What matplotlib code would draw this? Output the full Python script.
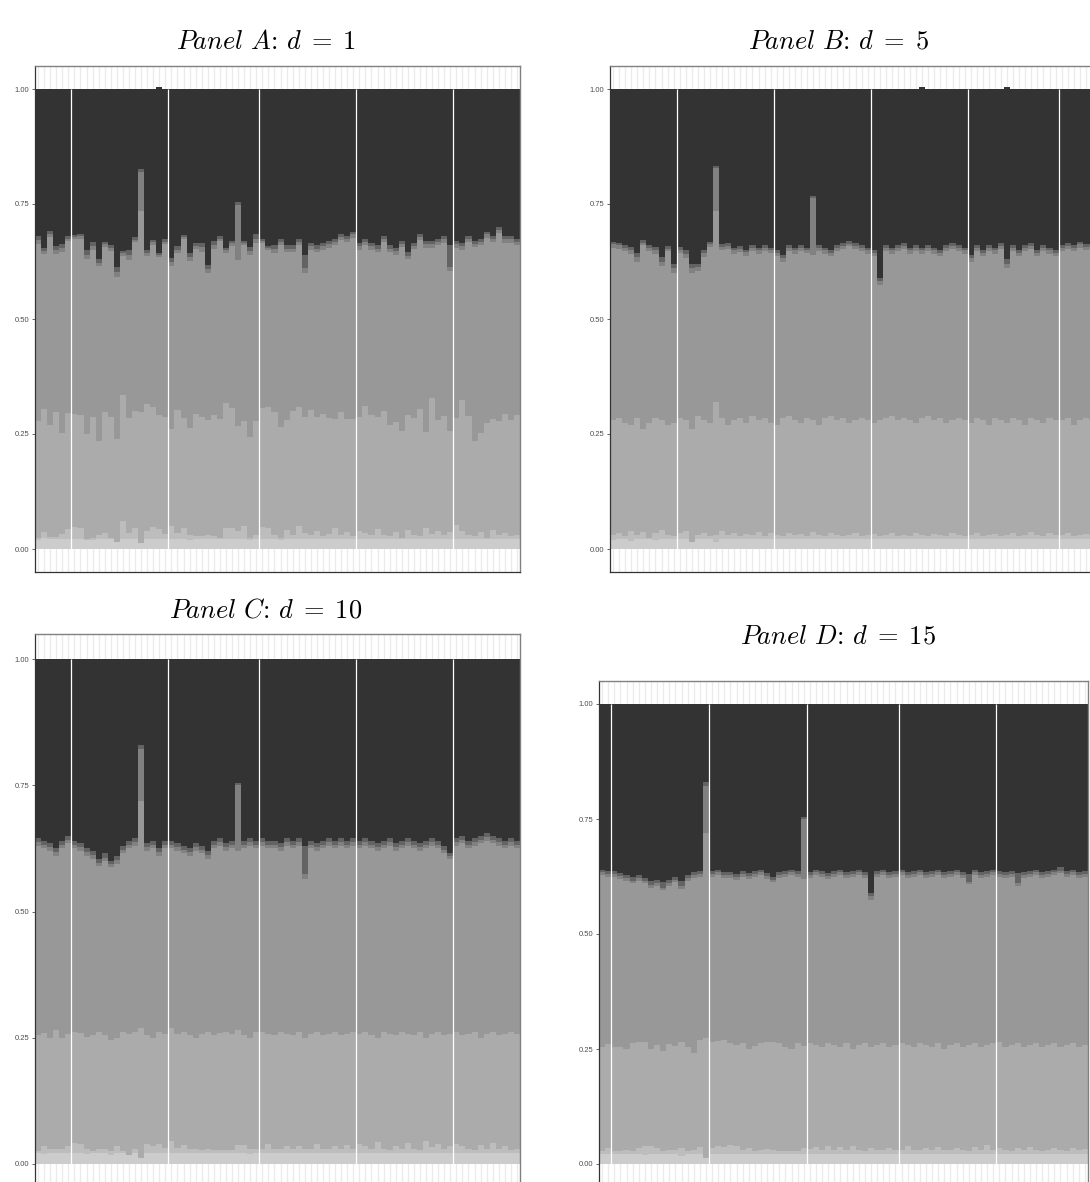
import numpy as np
import matplotlib.pyplot as plt

plt.rcParams['mathtext.fontset'] = 'cm'
plt.rcParams['font.family'] = ['Liberation Sans', 'DejaVu Sans']

W, H = 1090, 1182

# grey fill per ancestry layer, bottom to top
greys = ['#cccccc', '#bdbdbd', '#ababab', '#989898', '#818181', '#636363', '#333333']

# each panel: cumulative top of layers 1..6 for each individual (layer 7 runs to 1)
a_c = [.020, .023, .022, .022, .022, .022,
       .022, .022, .019, .020, .022, .022, .022, .016, .022, .022, .022, .012, .022, .022, .022, .022,
       .022, .022, .022, .020, .022, .022, .022, .022, .022, .022, .022, .022, .022, .020, .022,
       .022, .022, .022, .020, .022, .022, .022, .022, .022, .022, .022, .022, .022, .022, .022, .022,
       .022, .022, .022, .022, .022, .022, .022, .022, .022, .022, .022, .022, .022, .022, .022, .022,
       .022, .022, .022, .022, .022, .022, .022, .022, .022, .022, .022]
a_l = [.023, .038, .027, .027, .033, .043,
       .048, .046, .021, .025, .030, .035, .023, .016, .061, .034, .045, .012, .040, .048, .043, .032,
       .050, .034, .045, .030, .028, .028, .030, .028, .025, .046, .045, .040, .049, .025, .030,
       .048, .045, .030, .023, .041, .031, .049, .035, .030, .040, .028, .033, .045, .030, .038, .028,
       .040, .035, .030, .044, .030, .028, .036, .025, .042, .030, .028, .045, .033, .040, .030, .036,
       .052, .040, .030, .028, .038, .025, .042, .030, .035, .028, .030]
a_s = [.278, .304, .270, .298, .252, .296,
       .293, .291, .250, .287, .235, .298, .287, .239, .335, .285, .300, .298, .315, .309, .291, .287,
       .261, .302, .285, .263, .293, .287, .280, .291, .283, .317, .307, .267, .278, .243, .278,
       .307, .309, .298, .265, .280, .300, .309, .287, .302, .287, .293, .285, .283, .298, .283, .283,
       .287, .311, .291, .287, .300, .270, .276, .257, .291, .285, .304, .254, .328, .280, .289, .257,
       .285, .324, .289, .235, .252, .274, .283, .278, .293, .280, .291]
a_m = [.663, .641, .678, .641, .646, .670,
       .674, .674, .630, .650, .615, .657, .648, .591, .637, .628, .667, .735, .637, .661, .635, .663,
       .615, .643, .674, .626, .652, .646, .600, .652, .670, .643, .659, .628, .661, .639, .665,
       .665, .650, .643, .660, .645, .645, .660, .600, .650, .645, .650, .655, .660, .672, .667, .677,
       .650, .660, .650, .645, .667, .645, .640, .656, .630, .652, .672, .655, .655, .660, .665, .605,
       .655, .650, .667, .657, .660, .676, .667, .686, .665, .665, .660]
a_g = [.672, .648, .684, .650, .655, .675,
       .678, .680, .640, .659, .622, .662, .655, .602, .643, .640, .672, .820, .644, .667, .639, .668,
       .624, .651, .678, .635, .659, .656, .608, .661, .675, .649, .665, .748, .665, .648, .675,
       .670, .655, .652, .667, .653, .652, .668, .610, .658, .652, .658, .663, .668, .679, .674, .684,
       .658, .668, .658, .653, .674, .653, .648, .664, .638, .659, .679, .663, .663, .668, .673, .612,
       .663, .658, .674, .664, .668, .684, .674, .694, .673, .673, .668]
a_t = [.680, .654, .691, .659, .663, .680,
       .683, .685, .650, .667, .630, .667, .661, .613, .648, .650, .678, .826, .650, .672, .643, .674,
       .633, .659, .683, .643, .665, .665, .617, .670, .680, .654, .670, .754, .670, .657, .685,
       .674, .659, .661, .675, .660, .660, .675, .640, .665, .660, .665, .670, .675, .685, .680, .690,
       .665, .675, .665, .660, .680, .660, .655, .670, .645, .665, .685, .670, .670, .675, .680, .660,
       .670, .665, .680, .670, .675, .690, .680, .700, .680, .680, .675]
a_over = [20]

b_c = [.020, .022, .022, .018, .022, .022, .022, .020, .022, .022, .022,
       .022, .022, .015, .022, .022, .022, .015, .022, .022, .022, .022, .022, .022, .022, .022, .022,
       .022, .022, .022, .022, .022, .022, .022, .022, .022, .022, .022, .022, .022, .022, .022, .022,
       .022, .022, .022, .022, .022, .022, .022, .022, .022, .022, .022, .022, .022, .022, .022, .022,
       .022, .022, .022, .022, .022, .022, .022, .022, .022, .022, .022, .022, .022, .022, .022,
       .022, .022, .022, .022, .022, .022]
b_l = [.030, .035, .028, .040, .030, .038, .025, .035, .042, .030, .028,
       .035, .040, .015, .030, .035, .028, .030, .040, .030, .035, .028, .032, .030, .038, .028, .035,
       .030, .028, .035, .030, .032, .028, .038, .030, .028, .035, .030, .028, .030, .035, .028, .030,
       .032, .028, .030, .035, .028, .030, .028, .035, .030, .028, .032, .030, .028, .035, .030, .028,
       .030, .035, .028, .030, .032, .028, .030, .035, .028, .030, .038, .030, .028, .035, .030,
       .030, .035, .028, .030, .032, .030]
b_s = [.280, .285, .275, .270, .285, .260, .275, .285, .280, .270, .275,
       .285, .280, .260, .290, .280, .275, .320, .285, .270, .280, .285, .275, .290, .280, .285, .275,
       .270, .285, .290, .280, .275, .285, .280, .270, .285, .290, .280, .285, .275, .280, .285, .280,
       .275, .280, .285, .290, .280, .285, .280, .275, .285, .290, .280, .285, .275, .280, .285, .280,
       .275, .285, .280, .270, .285, .280, .275, .285, .280, .270, .285, .280, .275, .285, .280,
       .280, .285, .270, .280, .285, .280]
b_m = [.655, .652, .648, .642, .625, .660, .648, .642, .615, .647, .600,
       .643, .633, .600, .605, .635, .656, .735, .650, .652, .642, .645, .638, .648, .642, .648, .643,
       .638, .625, .648, .642, .648, .643, .640, .648, .642, .638, .648, .652, .658, .652, .648, .642,
       .638, .575, .648, .642, .648, .652, .642, .648, .642, .648, .642, .638, .648, .652, .648, .642,
       .625, .648, .638, .648, .642, .652, .610, .648, .638, .648, .652, .638, .648, .642, .638,
       .648, .652, .648, .655, .650, .652]
b_g = [.662, .660, .655, .650, .635, .666, .655, .650, .625, .653, .610,
       .650, .642, .610, .612, .643, .662, .828, .656, .659, .649, .652, .645, .654, .649, .654, .649,
       .644, .633, .654, .649, .654, .649, .762, .654, .649, .644, .654, .659, .664, .659, .654, .649,
       .644, .582, .654, .649, .654, .659, .649, .654, .649, .654, .649, .644, .654, .659, .654, .649,
       .633, .654, .644, .654, .649, .659, .620, .654, .644, .654, .659, .644, .654, .649, .644,
       .654, .659, .654, .662, .656, .658]
b_t = [.668, .666, .661, .657, .643, .672, .661, .657, .635, .659, .620,
       .657, .650, .620, .620, .650, .668, .833, .662, .665, .655, .658, .650, .660, .655, .660, .655,
       .650, .640, .660, .655, .660, .655, .767, .660, .655, .650, .660, .665, .670, .665, .660, .655,
       .650, .590, .660, .655, .660, .665, .655, .660, .655, .660, .655, .650, .660, .665, .660, .655,
       .640, .660, .650, .660, .655, .665, .630, .660, .650, .660, .665, .650, .660, .655, .650,
       .660, .665, .660, .668, .662, .664]
b_over = [51, 65]

c_c = [.022, .020, .022, .022, .022, .022,
       .022, .022, .020, .022, .022, .022, .018, .022, .022, .022, .022, .012, .022, .022, .022, .022,
       .022, .022, .022, .022, .022, .022, .022, .022, .022, .022, .022, .022, .022, .020, .022,
       .022, .022, .022, .022, .022, .022, .022, .022, .022, .022, .022, .022, .022, .022, .022, .022,
       .022, .022, .022, .022, .022, .022, .022, .022, .022, .022, .022, .022, .022, .022, .022, .022,
       .022, .022, .022, .022, .022, .022, .022, .022, .022, .022, .022]
c_l = [.026, .035, .030, .030, .030, .035,
       .042, .040, .030, .025, .030, .030, .025, .035, .025, .018, .030, .012, .040, .035, .040, .032,
       .045, .032, .038, .030, .030, .028, .030, .028, .028, .028, .028, .038, .038, .030, .030,
       .030, .040, .030, .030, .035, .030, .035, .030, .030, .040, .030, .030, .035, .030, .038, .030,
       .040, .035, .030, .044, .030, .028, .036, .030, .042, .030, .028, .045, .033, .040, .030, .036,
       .040, .035, .030, .028, .038, .030, .042, .030, .035, .028, .030]
c_s = [.255, .260, .250, .265, .250, .258,
       .262, .260, .252, .255, .262, .256, .245, .250, .262, .258, .262, .270, .255, .250, .262, .258,
       .270, .258, .262, .255, .250, .258, .262, .255, .260, .262, .258, .265, .255, .250, .262,
       .262, .258, .255, .262, .258, .255, .262, .250, .258, .262, .255, .258, .262, .255, .258, .262,
       .258, .262, .255, .250, .262, .258, .255, .262, .258, .255, .262, .250, .258, .262, .255, .258,
       .262, .255, .258, .262, .250, .258, .262, .255, .258, .262, .258]
c_m = [.630, .625, .620, .610, .625, .635,
       .625, .620, .610, .605, .590, .600, .588, .595, .615, .625, .630, .720, .620, .625, .610, .625,
       .625, .620, .615, .610, .620, .615, .605, .625, .630, .620, .625, .620, .625, .630, .625,
       .630, .625, .625, .620, .630, .625, .630, .565, .625, .620, .625, .630, .625, .630, .625, .630,
       .625, .630, .625, .620, .625, .630, .620, .625, .630, .625, .620, .625, .630, .625, .615, .605,
       .630, .635, .625, .630, .635, .640, .635, .630, .625, .630, .625]
c_g = [.637, .632, .627, .617, .632, .642,
       .632, .627, .617, .612, .597, .607, .594, .602, .622, .632, .637, .822, .627, .632, .617, .632,
       .632, .627, .622, .617, .627, .622, .612, .632, .637, .627, .632, .750, .632, .637, .632,
       .637, .632, .632, .627, .637, .632, .637, .575, .632, .627, .632, .637, .632, .637, .632, .637,
       .632, .637, .632, .627, .632, .637, .627, .632, .637, .632, .627, .632, .637, .632, .622, .610,
       .637, .642, .632, .637, .642, .647, .642, .637, .632, .637, .632]
c_t = [.645, .640, .635, .625, .640, .650,
       .640, .635, .625, .620, .605, .615, .600, .610, .630, .640, .645, .830, .635, .640, .625, .640,
       .640, .635, .630, .625, .635, .630, .620, .640, .645, .635, .640, .755, .640, .645, .640,
       .645, .640, .640, .635, .645, .640, .645, .630, .640, .635, .640, .645, .640, .645, .640, .645,
       .640, .645, .640, .635, .640, .645, .635, .640, .645, .640, .635, .640, .645, .640, .630, .615,
       .645, .650, .640, .645, .650, .655, .650, .645, .640, .645, .640]
c_over = []

d_c = [.022, .022,
       .022, .022, .022, .022, .022, .020, .022, .022, .022, .022, .022, .018, .022, .022, .022, .012,
       .022, .022, .022, .022, .022, .022, .022, .022, .022, .022, .022, .022, .022, .022, .022, .022,
       .022, .022, .022, .022, .022, .022, .022, .022, .022, .022, .022, .022, .022, .022, .022,
       .022, .022, .022, .022, .022, .022, .022, .022, .022, .022, .022, .022, .022, .022, .022, .022,
       .022, .022, .022, .022, .022, .022, .022, .022, .022, .022, .022, .022, .022, .022, .022]
d_l = [.028, .035,
       .028, .028, .030, .028, .035, .040, .040, .035, .028, .030, .030, .035, .028, .030, .038, .012,
       .035, .040, .038, .042, .040, .030, .035, .028, .030, .032, .030, .028, .028, .028, .028, .034,
       .032, .038, .030, .040, .030, .038, .030, .040, .030, .028, .035, .030, .030, .035, .030,
       .030, .040, .030, .030, .035, .030, .038, .030, .030, .035, .030, .028, .036, .030, .042, .030,
       .035, .030, .028, .035, .030, .038, .030, .028, .030, .035, .030, .028, .035, .030, .032]
d_s = [.255, .260,
       .255, .255, .250, .262, .265, .265, .250, .258, .245, .260, .256, .265, .255, .242, .270, .275,
       .265, .268, .270, .262, .258, .262, .250, .256, .262, .265, .265, .262, .255, .250, .262, .256,
       .262, .258, .255, .262, .258, .255, .262, .250, .258, .262, .255, .258, .262, .255, .258,
       .262, .258, .255, .262, .258, .255, .262, .250, .258, .262, .255, .258, .262, .255, .258, .262,
       .265, .255, .258, .262, .255, .258, .262, .255, .258, .262, .255, .258, .262, .255, .258]
d_m = [.628, .625,
       .625, .620, .615, .610, .615, .610, .600, .605, .595, .605, .612, .598, .615, .622, .625, .720,
       .625, .628, .622, .622, .618, .625, .620, .625, .628, .620, .612, .622, .625, .628, .625, .620,
       .622, .628, .625, .620, .625, .628, .622, .625, .628, .622, .575, .625, .628, .622, .625,
       .628, .622, .625, .628, .622, .625, .628, .622, .625, .628, .622, .608, .628, .622, .625, .628,
       .625, .622, .625, .605, .622, .625, .628, .622, .625, .628, .632, .625, .628, .622, .625]
d_g = [.634, .631,
       .631, .626, .621, .616, .621, .616, .606, .611, .601, .611, .618, .604, .621, .628, .631, .822,
       .631, .634, .628, .628, .624, .631, .626, .631, .634, .626, .618, .628, .631, .634, .631, .750,
       .628, .634, .631, .626, .631, .634, .628, .631, .634, .628, .582, .631, .634, .628, .631,
       .634, .628, .631, .634, .628, .631, .634, .628, .631, .634, .628, .612, .634, .628, .631, .634,
       .631, .628, .631, .610, .628, .631, .634, .628, .631, .634, .638, .631, .634, .628, .631]
d_t = [.640, .638,
       .638, .632, .628, .625, .628, .622, .615, .618, .612, .618, .625, .615, .628, .635, .638, .830,
       .638, .640, .635, .635, .630, .638, .632, .638, .640, .632, .625, .635, .638, .640, .638, .755,
       .635, .640, .638, .632, .638, .640, .635, .638, .640, .635, .590, .638, .640, .635, .638,
       .640, .635, .638, .640, .635, .638, .640, .635, .638, .640, .635, .630, .640, .635, .638, .640,
       .638, .635, .638, .632, .635, .638, .640, .635, .638, .640, .645, .638, .640, .635, .638]
d_over = []

# group sizes (white separators fall between groups)
groups_ac = [6, 16, 15, 16, 16, 11]
groups_b = [11, 16, 16, 16, 15, 6]
groups_d = [2, 16, 16, 15, 16, 15]

titles = [(r'$\mathit{Panel\ A}$', r'$d\;=\;1$'), (r'$\mathit{Panel\ B}$', r'$d\;=\;5$'),
          (r'$\mathit{Panel\ C}$', r'$d\;=\;10$'), (r'$\mathit{Panel\ D}$', r'$d\;=\;15$')]


def structure(ax, cuts, groups, over):
    n = len(cuts[0])
    x = np.arange(n)
    for xi in x:
        ax.axvline(xi, color='#ebebeb', lw=1.0, zorder=0)
    top = np.ones(n)
    top[over] += 0.005
    bounds = [np.zeros(n)] + [np.asarray(c) for c in cuts] + [top]
    for k in range(len(greys)):
        ax.bar(x, bounds[k + 1] - bounds[k], bottom=bounds[k], width=1.0,
               color=greys[k], linewidth=0, zorder=2)
    seps = np.cumsum(groups)[:-1] - 0.5
    ax.vlines(seps, 0, 1, color='white', lw=0.9, zorder=3)
    ax.set_xlim(-0.5, n - 0.5)
    ax.set_ylim(-0.05, 1.05)
    ax.set_xticks([])
    ax.set_yticks([0, 0.25, 0.5, 0.75, 1.0])
    ax.set_yticklabels(['0.00', '0.25', '0.50', '0.75', '1.00'])
    ax.tick_params(axis='y', labelsize=5.5, labelcolor='#4d4d4d', color='#4d4d4d',
                   length=2.5, width=0.6, pad=1.5)
    for s in ['top', 'right']:
        ax.spines[s].set_color('#808080')
        ax.spines[s].set_linewidth(1.0)
    for s in ['left', 'bottom']:
        ax.spines[s].set_color('#333333')
        ax.spines[s].set_linewidth(0.9)
    ax.set_facecolor('white')


def place(fig, left, right, top, bottom):
    return fig.add_axes([left / W, (H - bottom) / H, (right - left) / W, (bottom - top) / H])


fig = plt.figure(figsize=(W / 100, H / 100), dpi=100)

panels = [
    ((35, 520, 66, 572), [a_c, a_l, a_s, a_m, a_g, a_t], groups_ac, a_over, (266, 42)),
    ((610, 1095, 66, 572), [b_c, b_l, b_s, b_m, b_g, b_t], groups_b, b_over, (838, 42)),
    ((35, 520, 634, 1189), [c_c, c_l, c_s, c_m, c_g, c_t], groups_ac, c_over, (266, 610)),
    ((599, 1088, 681, 1187), [d_c, d_l, d_s, d_m, d_g, d_t], groups_d, d_over, (838, 637)),
]

for (box, cuts, groups, over, tpos), (label, eq) in zip(panels, titles):
    ax = place(fig, *box)
    structure(ax, cuts, groups, over)
    fig.text(tpos[0] / W, 1 - tpos[1] / H, label + ': ' + eq, ha='center', va='center',
             fontsize=19, family='cmr10')

fig.savefig('out.png', dpi=100, facecolor='white')
